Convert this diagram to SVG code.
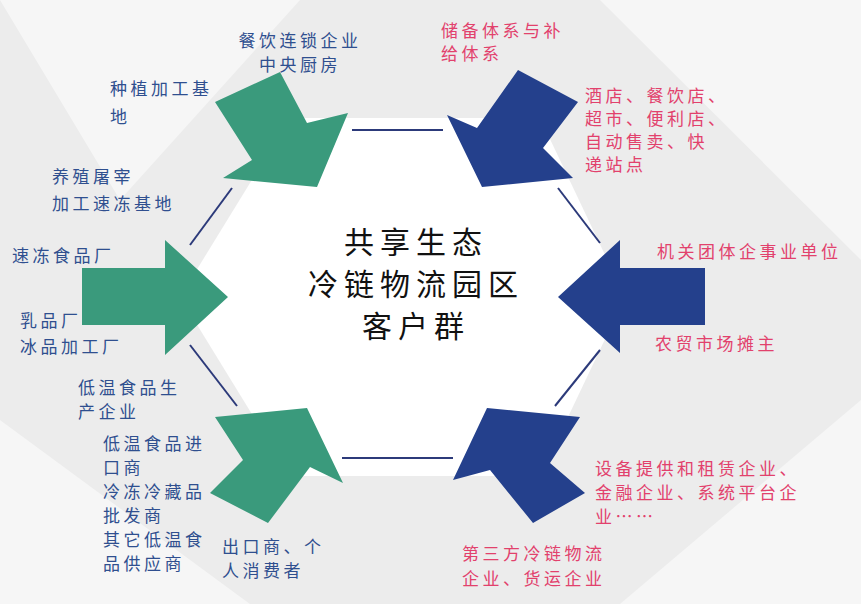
<svg xmlns="http://www.w3.org/2000/svg" width="861" height="604" viewBox="0 0 861 604">
<style>
.g{fill:#3a9a7c}.b{fill:#24408c}
.l{font:17px "Noto Sans CJK SC",sans-serif;fill:#2f4f8f;letter-spacing:3.5px}
.r{font:17px "Noto Sans CJK SC",sans-serif;fill:#e2416c;letter-spacing:3.5px}
.c{font:400 30px "Noto Sans CJK SC",sans-serif;fill:#111;text-anchor:middle;letter-spacing:6px}
.e{stroke:#2c3a7a;stroke-width:2}
</style>
<rect width="861" height="604" fill="#ececec"/>
<g id="bg" fill="#f6f6f6">
<polygon points="0,0 300,0 120,200"/><polygon points="861,0 600,0 861,260"/><polygon points="0,604 250,604 0,420"/><polygon points="861,604 620,604 861,400"/>
</g>
<polygon id="hex" points="290,118 540,118 625,297 540,476 290,476 180,297" fill="#fff"/>
<g id="connectors" class="e">
<line x1="352" y1="130" x2="443" y2="130"/><line x1="232" y1="188" x2="190" y2="245"/><line x1="558" y1="188" x2="600" y2="243"/>
<line x1="190" y1="345" x2="237" y2="406"/><line x1="600" y1="350" x2="555" y2="406"/><line x1="342" y1="458" x2="453" y2="458"/>
</g>
<g id="arrow-tl"><polygon class="g" points="215,102 280,72 307,123 348,113 317,187 223,178 252,160"/></g>
<g id="arrow-l"><polygon class="g" points="82,268 165,268 165,240 228,297 165,355 165,325 82,325"/></g>
<g id="arrow-bl"><polygon class="g" points="307,408 343,483 310,467 268,523 210,493 243,460 215,417"/></g>
<g id="arrow-tr"><polygon class="b" points="518,70 578,102 543,148 573,178 482,187 447,115 477,128"/></g>
<g id="arrow-r"><polygon class="b" points="705,268 620,268 620,240 558,297 620,353 620,325 705,325"/></g>
<g id="arrow-br"><polygon class="b" points="487,408 580,417 550,463 585,493 533,523 490,470 453,480"/></g>
<g id="center"><text class="c" x="416" y="253">共享生态</text><text class="c" x="416" y="295">冷链物流园区</text><text class="c" x="416" y="337">客户群</text></g>
<g id="left-labels" class="l">
<text x="300" y="47" text-anchor="middle">餐饮连锁企业</text><text x="300" y="71" text-anchor="middle">中央厨房</text>
<text x="110" y="95">种植加工基</text><text x="110" y="123">地</text>
<text x="52" y="183">养殖屠宰</text><text x="52" y="210">加工速冻基地</text>
<text x="12" y="262">速冻食品厂</text>
<text x="20" y="327">乳品厂</text><text x="20" y="353">冰品加工厂</text>
<text x="78" y="394">低温食品生</text><text x="78" y="418">产企业</text>
<text x="103" y="450">低温食品进</text><text x="103" y="474">口商</text><text x="103" y="498">冷冻冷藏品</text><text x="103" y="522">批发商</text><text x="103" y="546">其它低温食</text><text x="103" y="570">品供应商</text>
<text x="222" y="553">出口商、个</text><text x="222" y="577">人消费者</text>
</g>
<g id="right-labels" class="r">
<text x="441" y="37">储备体系与补</text><text x="441" y="60">给体系</text>
<text x="585" y="102">酒店、餐饮店、</text><text x="585" y="125">超市、便利店、</text><text x="585" y="148">自动售卖、快</text><text x="585" y="171">递站点</text>
<text x="657" y="258">机关团体企事业单位</text>
<text x="655" y="350">农贸市场摊主</text>
<text x="595" y="475">设备提供和租赁企业、</text><text x="595" y="499">金融企业、系统平台企</text><text x="595" y="523">业……</text>
<text x="462" y="560">第三方冷链物流</text><text x="462" y="585">企业、货运企业</text>
</g>
</svg>
